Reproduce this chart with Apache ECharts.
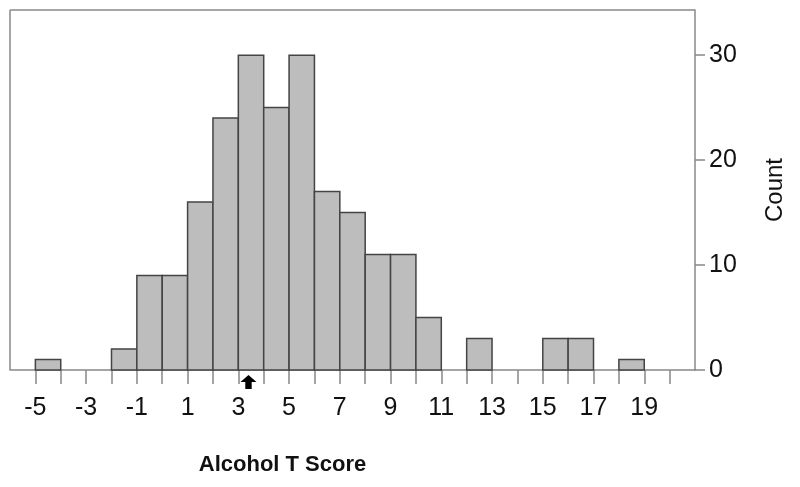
<!DOCTYPE html>
<html><head><meta charset="utf-8">
<script src="https://cdn.jsdelivr.net/npm/echarts@6/dist/echarts.min.js"></script>
<style>html,body{margin:0;padding:0;background:#fff}#c{width:800px;height:487px}</style>
</head><body><div id="c"></div>
<script>
const binStarts = [-5,-4,-3,-2,-1,0,1,2,3,4,5,6,7,8,9,10,11,12,13,14,15,16,17,18];
const counts    = [ 1, 0, 0, 2, 9, 9,16,24,30,25,30,17,15,11,11, 5, 0, 3, 0, 0, 3, 3, 0, 1];
const yTicks = [0,10,20,30];
const meanMarker = 3.4;
const xLabel = 'Alcohol T Score', yLabel = 'Count';
const fam = "'Liberation Sans Narrow','Liberation Sans',sans-serif";

const data = binStarts.map((b,i)=>[b, b+1, counts[i]]).filter(d=>d[2]>0);
const chart = echarts.init(document.getElementById('c'));
chart.setOption({
  animation:false,
  grid:{left:10,right:105,top:10,bottom:117},
  xAxis:{type:'value',min:-6,max:21,interval:1,
    axisLine:{show:true,onZero:false,lineStyle:{color:'#888',width:1.5}},
    axisTick:{show:true,length:14,lineStyle:{color:'#888',width:1.5},
      customValues:binStarts.concat([19,20])},
    splitLine:{show:false},
    axisLabel:{fontSize:25,color:'#111',margin:26,fontFamily:fam,
      customValues:[-5,-3,-1,1,3,5,7,9,11,13,15,17,19]},
    name:xLabel,nameLocation:'middle',nameGap:84,
    nameTextStyle:{fontSize:22,fontWeight:'bold',color:'#111',fontFamily:'Liberation Sans',padding:[0,140,0,0]}},
  yAxis:{type:'value',position:'right',min:0,max:34.3,
    axisLine:{show:true,onZero:false,lineStyle:{color:'#888',width:1.5}},
    axisTick:{show:true,length:10,lineStyle:{color:'#888',width:1.5},customValues:yTicks},
    axisLabel:{fontSize:25,color:'#111',margin:14,fontFamily:fam,customValues:yTicks},
    splitLine:{show:false},
    name:yLabel,nameLocation:'middle',nameGap:68,nameRotate:90,
    nameTextStyle:{fontSize:24,color:'#111',fontFamily:'Liberation Sans'}},
  series:[{
    type:'custom',data:data,
    renderItem:(params,api)=>{
      const p0=api.coord([api.value(0),0]);
      const p1=api.coord([api.value(1),api.value(2)]);
      return {type:'rect',shape:{x:p0[0],y:p1[1],width:p1[0]-p0[0],height:p0[1]-p1[1]},
        style:{fill:'#bdbdbd',stroke:'#444',lineWidth:1.5}};
    },
    encode:{x:[0,1],y:2},
    markPoint:{symbol:'path://M5,0 L10,5 L7,5 L7,10 L3,10 L3,5 L0,5 Z',symbolSize:[16,14],
      symbolOffset:[0,12],itemStyle:{color:'#000'},label:{show:false},
      data:[{coord:[meanMarker,0]}]}
  },{
    type:'line',data:[],
    markLine:{silent:true,symbol:'none',lineStyle:{color:'#888',width:1.5,type:'solid'},label:{show:false},
      data:[[{coord:[-6,34.3]},{coord:[21,34.3]}],[{coord:[-6,0]},{coord:[-6,34.3]}]]}
  }]
});
</script></body></html>
